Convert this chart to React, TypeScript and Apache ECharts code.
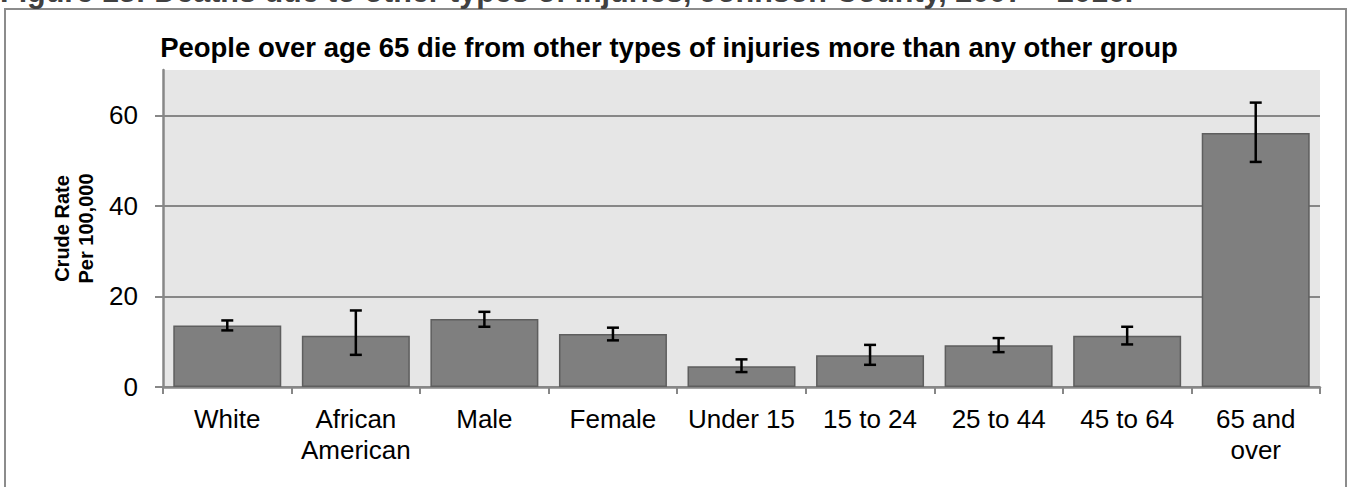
import React, { useEffect, useRef } from "react";
import * as echarts from "echarts";

const categories = ["White", "African\nAmerican", "Male", "Female", "Under 15", "15 to 24", "25 to 44", "45 to 64", "65 and\nover"];
const rates = [13.6, 11.3, 15.0, 11.7, 4.6, 7.0, 9.2, 11.3, 56.1];
const lowerCI = [12.5, 7.1, 13.3, 10.3, 3.3, 4.9, 7.7, 9.4, 49.7];
const upperCI = [14.7, 16.9, 16.6, 13.1, 6.1, 9.3, 10.8, 13.3, 62.8];
const yTicks = [0, 20, 40, 60];
const yMax = 70;
const chartTitle = "People over age 65 die from other types of injuries more than any other group";
const figureCaption = "Figure 13: Deaths due to other types of injuries, Johnson County, 2007 – 2016.";
const yAxisName = "Crude Rate\nPer 100,000";

const FONT = "'Liberation Sans', Arial, Helvetica, sans-serif";
const AXIS_GRAY = "#878787";

export default function App() {
  const ref = useRef<HTMLDivElement>(null);
  useEffect(() => {
    if (!ref.current) return;
    const chart = echarts.init(ref.current, null, { renderer: "svg" });
    const option: any = {
      animation: false,
      backgroundColor: "#ffffff",
      textStyle: { fontFamily: FONT },
      title: {
        text: chartTitle,
        left: 664,
        top: 28,
        textAlign: "center",
        textStyle: { fontSize: 27.5, fontWeight: "bold", color: "#000", fontFamily: FONT },
      },
      grid: {
        left: 163,
        right: 29,
        top: 70,
        bottom: 100,
        show: true,
        backgroundColor: "#e6e6e6",
        borderWidth: 0,
        containLabel: false,
        outerBoundsMode: "none",
      },
      xAxis: {
        type: "category",
        data: categories,
        axisLine: { show: true, lineStyle: { color: AXIS_GRAY, width: 2.5 } },
        axisTick: { show: true, length: 7, alignWithLabel: false, lineStyle: { color: AXIS_GRAY, width: 2 } },
        axisLabel: { interval: 0, fontSize: 26, color: "#000", margin: 16, lineHeight: 31, fontFamily: FONT },
        splitLine: { show: false },
      },
      yAxis: {
        type: "value",
        min: 0,
        max: yMax,
        interval: 20,
        name: yAxisName,
        nameLocation: "middle",
        nameGap: 59,
        nameTextStyle: { fontSize: 20, fontWeight: "bold", lineHeight: 24, color: "#000", fontFamily: FONT },
        axisLine: { show: true, lineStyle: { color: AXIS_GRAY, width: 2.5 } },
        axisTick: { show: true, length: 8, customValues: yTicks, lineStyle: { color: AXIS_GRAY, width: 2 } },
        axisLabel: {
          fontSize: 26,
          color: "#000",
          margin: 25,
          fontFamily: FONT,
          customValues: yTicks,
          formatter: (v: number) => (yTicks.includes(v) ? String(v) : ""),
        },
        splitLine: {
          show: true,
          lineStyle: { color: [AXIS_GRAY, AXIS_GRAY, AXIS_GRAY, AXIS_GRAY, "rgba(0,0,0,0)"], width: 2 },
        },
      },
      series: [
        {
          type: "bar",
          data: rates,
          barCategoryGap: "16%",
          itemStyle: { color: "#7f7f7f", borderColor: "#5e5e5e", borderWidth: 1.5 },
          z: 2,
        },
        {
          type: "custom",
          data: categories.map((_, i) => [i, lowerCI[i], upperCI[i]]),
          encode: { x: 0, y: [1, 2] },
          z: 10,
          renderItem: (params: any, api: any) => {
            const x = api.value(0);
            const lo = api.coord([x, api.value(1)]);
            const hi = api.coord([x, api.value(2)]);
            const half = 6;
            const style = { stroke: "#000", lineWidth: 2.5 };
            return {
              type: "group",
              children: [
                { type: "line", shape: { x1: lo[0], y1: lo[1], x2: hi[0], y2: hi[1] }, style },
                { type: "line", shape: { x1: lo[0] - half, y1: lo[1], x2: lo[0] + half, y2: lo[1] }, style },
                { type: "line", shape: { x1: hi[0] - half, y1: hi[1], x2: hi[0] + half, y2: hi[1] }, style },
              ],
            };
          },
        },
      ],
      graphic: [
        {
          type: "rect",
          shape: { x: 5, y: 9, width: 1341, height: 520 },
          style: { fill: "none", stroke: "#8c8c8c", lineWidth: 2 },
          silent: true,
          z: 0,
        },
        {
          type: "text",
          x: 0,
          y: -9,
          style: {
            text: figureCaption,
            fill: "#404040",
            font: `bold 30.5px ${FONT}`,
            align: "left",
            verticalAlign: "middle",
          },
          silent: true,
        },
      ],
    };
    chart.setOption(option);
    return () => chart.dispose();
  }, []);
  return <div ref={ref} style={{ position: "fixed", left: 0, top: 0, width: 1349, height: 487 }} />;
}
